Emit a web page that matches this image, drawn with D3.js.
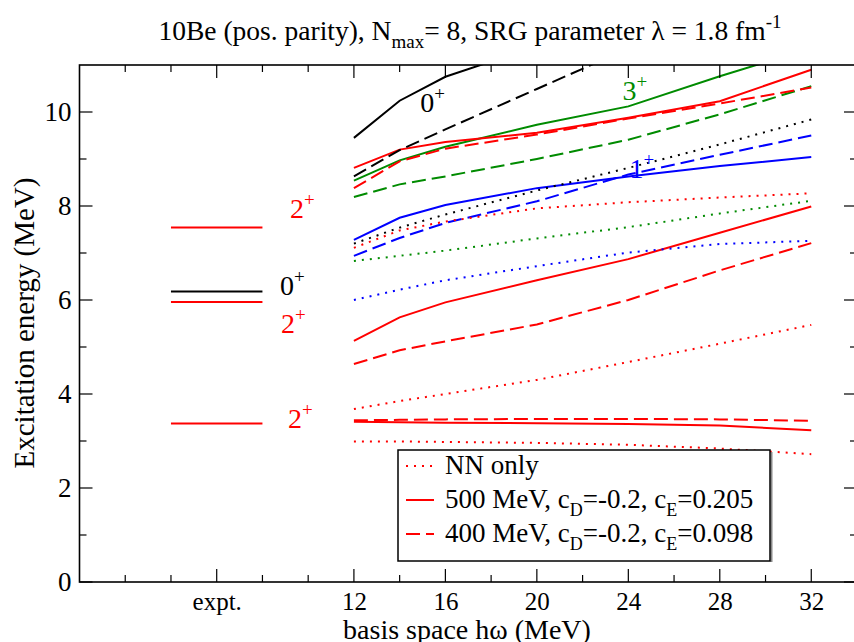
<!DOCTYPE html>
<html><head><meta charset="utf-8">
<script src="https://cdn.jsdelivr.net/npm/d3@7"></script>
<style>
body{margin:0;background:#fff}
svg{display:block}
text{font-family:"Liberation Serif","Times New Roman",Times,serif}
</style>
</head><body>
<svg id="c" width="854" height="642"></svg>
<script>
// ---------------- data ----------------
const hw = [12, 14, 16, 20, 24, 28, 32];

// first 2+ state
const twoA_NN   = [2.99, 2.99, 2.98, 2.96, 2.92, 2.84, 2.72];
const twoA_500  = [3.41, 3.40, 3.39, 3.38, 3.36, 3.33, 3.23];
const twoA_400  = [3.44, 3.45, 3.46, 3.47, 3.47, 3.46, 3.43];
// second 2+ state
const twoB_NN   = [3.68, 3.85, 4.00, 4.30, 4.68, 5.07, 5.47];
const twoB_500  = [5.13, 5.63, 5.95, 6.42, 6.87, 7.43, 7.99];
const twoB_400  = [4.64, 4.93, 5.12, 5.48, 6.00, 6.63, 7.21];
// third 2+ state
const twoC_NN   = [7.11, 7.48, 7.67, 7.95, 8.08, 8.18, 8.27];
const twoC_500  = [8.81, 9.20, 9.36, 9.56, 9.88, 10.23, 10.90];
const twoC_400  = [8.38, 8.95, 9.22, 9.52, 9.86, 10.18, 10.52];
// 0+ state
const zero_NN   = [7.20, 7.54, 7.82, 8.33, 8.81, 9.31, 9.84];
const zero_500  = [9.45, 10.24, 10.75, 11.40, 12.00, 12.60, 13.20];
const zero_400  = [8.63, 9.19, 9.63, 10.49, 11.35, 12.10, 12.80];
// 1+ state
const one_NN    = [6.00, 6.22, 6.42, 6.72, 7.01, 7.19, 7.26];
const one_500   = [7.28, 7.75, 8.02, 8.38, 8.63, 8.85, 9.04];
const one_400   = [6.94, 7.32, 7.64, 8.10, 8.67, 9.09, 9.50];
// 3+ state
const three_NN  = [6.83, 6.94, 7.05, 7.31, 7.55, 7.84, 8.11];
const three_500 = [8.54, 8.97, 9.26, 9.73, 10.12, 10.76, 11.36];
const three_400 = [8.19, 8.46, 8.63, 9.00, 9.41, 9.95, 10.55];

// experiment
const exptJ = ["2", "0", "2", "2"];
const exptE = [7.54, 6.18, 5.96, 3.37];

const xMajor = [6, 12, 16, 20, 24, 28, 32];
const xMinor = [2, 4, 8, 10, 14, 18, 22, 26, 30];
const yMajor = [0, 2, 4, 6, 8, 10];
const yMinor = [1, 3, 5, 7, 9];

const legendLabels = ["NN only", "500 MeV", "400 MeV"];
const legendCD = ["-0.2", "-0.2"];
const legendCE = ["0.205", "0.098"];

// ---------------- drawing ----------------
const RED = "#ff0000", BLK = "#000000", BLU = "#0000ff", GRN = "#008b00";
const DASH = {dotted: "2,6", solid: null, dashed: "14,6"};

const series = [
  {v: twoA_NN, c: RED, s: "dotted"}, {v: twoA_500, c: RED, s: "solid"}, {v: twoA_400, c: RED, s: "dashed"},
  {v: twoB_NN, c: RED, s: "dotted"}, {v: twoB_500, c: RED, s: "solid"}, {v: twoB_400, c: RED, s: "dashed"},
  {v: one_NN, c: BLU, s: "dotted"}, {v: one_500, c: BLU, s: "solid"}, {v: one_400, c: BLU, s: "dashed"},
  {v: three_NN, c: GRN, s: "dotted"}, {v: three_500, c: GRN, s: "solid"}, {v: three_400, c: GRN, s: "dashed"},
  {v: twoC_NN, c: RED, s: "dotted"}, {v: twoC_500, c: RED, s: "solid"}, {v: twoC_400, c: RED, s: "dashed"},
  {v: zero_NN, c: BLK, s: "dotted"}, {v: zero_500, c: BLK, s: "solid"}, {v: zero_400, c: BLK, s: "dashed"}
];

const svg = d3.select("#c");
const L = 79.5, R = 857, T = 65, B = 582;
const x = d3.scaleLinear().domain([0, 34]).range([L, R]);
const y = d3.scaleLinear().domain([0, 11]).range([B, T]);

svg.append("defs").append("clipPath").attr("id", "clip")
  .append("rect").attr("x", L).attr("y", T).attr("width", R - L).attr("height", B - T);

const line = d3.line().x((d, i) => x(hw[i])).y(d => y(d));
const g = svg.append("g").attr("clip-path", "url(#clip)");
series.forEach(sr => {
  g.append("path").datum(sr.v).attr("d", line)
    .attr("fill", "none").attr("stroke", sr.c).attr("stroke-width", 2)
    .attr("stroke-dasharray", DASH[sr.s]);
});

// experimental levels
const exptColor = [RED, BLK, RED, RED];
exptE.forEach((e, i) => {
  svg.append("line").attr("x1", x(4)).attr("x2", x(8)).attr("y1", y(e)).attr("y2", y(e))
    .attr("stroke", exptColor[i]).attr("stroke-width", 2);
});

function stateLabel(px, py, j, col, fs) {
  const t = svg.append("text").attr("x", px).attr("y", py).attr("fill", col).style("font-size", fs + "px");
  t.append("tspan").text(j);
  t.append("tspan").attr("dy", -fs * 0.42).style("font-size", (fs * 0.68) + "px").text("+");
}
const exptLabX = [290, 280, 281, 288];
const exptLabDy = [-10, 3, 31, 4];
exptE.forEach((e, i) => stateLabel(exptLabX[i], y(e) + exptLabDy[i], exptJ[i], exptColor[i], 28));

stateLabel(x(14.9), y(10.0), "0", BLK, 28);
stateLabel(x(23.75), y(10.25), "3", GRN, 28);
stateLabel(x(24.05), y(8.6), "1", BLU, 28);

// axes
function axisLines(sel, vals, len, orient) {
  vals.forEach(v => {
    if (orient === "x") {
      sel.append("line").attr("x1", x(v)).attr("x2", x(v)).attr("y1", B).attr("y2", B - len);
      sel.append("line").attr("x1", x(v)).attr("x2", x(v)).attr("y1", T).attr("y2", T + len);
    } else {
      sel.append("line").attr("y1", y(v)).attr("y2", y(v)).attr("x1", L).attr("x2", L + len);
      sel.append("line").attr("y1", y(v)).attr("y2", y(v)).attr("x1", R).attr("x2", R - len);
    }
  });
}
const tk = svg.append("g").attr("stroke", "#000").attr("stroke-width", 1.2);
axisLines(tk, xMajor, 13, "x");
axisLines(tk, xMinor, 7, "x");
axisLines(tk, yMajor, 13, "y");
axisLines(tk, yMinor, 7, "y");

svg.append("rect").attr("x", L).attr("y", T).attr("width", R - L).attr("height", B - T)
  .attr("fill", "none").attr("stroke", "#000").attr("stroke-width", 1.6);

// tick labels via d3 axes (tick marks drawn separately as inward ticks)
const xa = svg.append("g").attr("transform", `translate(0,${B})`)
  .call(d3.axisBottom(x).tickValues(xMajor).tickSize(0).tickPadding(10)
    .tickFormat(d => d === 6 ? "expt." : d));
const ya = svg.append("g").attr("transform", `translate(${L},0)`)
  .call(d3.axisLeft(y).tickValues(yMajor).tickSize(0).tickPadding(8));
[xa, ya].forEach(a => {
  a.attr("font-family", null).attr("font-size", null);
  a.select(".domain").remove();
  a.selectAll("text").attr("fill", "#000");
});
xa.selectAll("text").style("font-size", "25px");
ya.selectAll("text").style("font-size", "27px");

// title
const title = svg.append("text").attr("x", 470).attr("y", 40).attr("text-anchor", "middle")
  .style("font-size", "27.5px");
title.append("tspan").text("10Be (pos. parity), N");
title.append("tspan").attr("dy", 8).style("font-size", "19px").text("max");
title.append("tspan").attr("dy", -8).text("= 8, SRG parameter \u03bb = 1.8 fm");
title.append("tspan").attr("dy", -12).style("font-size", "19px").text("-1");

// axis titles
svg.append("text").attr("x", 467).attr("y", 639).attr("text-anchor", "middle")
  .style("font-size", "28px").text("basis space h\u03c9 (MeV)");
svg.append("text").attr("transform", "translate(34,323) rotate(-90)").attr("text-anchor", "middle")
  .style("font-size", "29px").text("Excitation energy (MeV)");

// legend
const lg = svg.append("g");
lg.append("line").attr("x1", 771.5).attr("x2", 771.5).attr("y1", 452).attr("y2", 562)
  .attr("stroke", "#888").attr("stroke-width", 2);
lg.append("rect").attr("x", 398).attr("y", 450).attr("width", 372).attr("height", 111)
  .attr("fill", "#fff").attr("stroke", "#000").attr("stroke-width", 1.5);
const styles = ["dotted", "solid", "dashed"];
const rowY = [474, 508, 542];
legendLabels.forEach((lab, i) => {
  lg.append("line").attr("x1", 406).attr("x2", 434).attr("y1", rowY[i] - 8).attr("y2", rowY[i] - 8)
    .attr("stroke", RED).attr("stroke-width", 2).attr("stroke-dasharray", DASH[styles[i]]);
  const t = lg.append("text").attr("x", 445).attr("y", rowY[i]).style("font-size", "27px");
  if (i === 0) { t.text(lab); return; }
  t.append("tspan").text(lab + ", c");
  t.append("tspan").attr("dy", 8).style("font-size", "18px").text("D");
  t.append("tspan").attr("dy", -8).text("=" + legendCD[i - 1] + ", c");
  t.append("tspan").attr("dy", 8).style("font-size", "18px").text("E");
  t.append("tspan").attr("dy", -8).text("=" + legendCE[i - 1]);
});
</script>
</body></html>
